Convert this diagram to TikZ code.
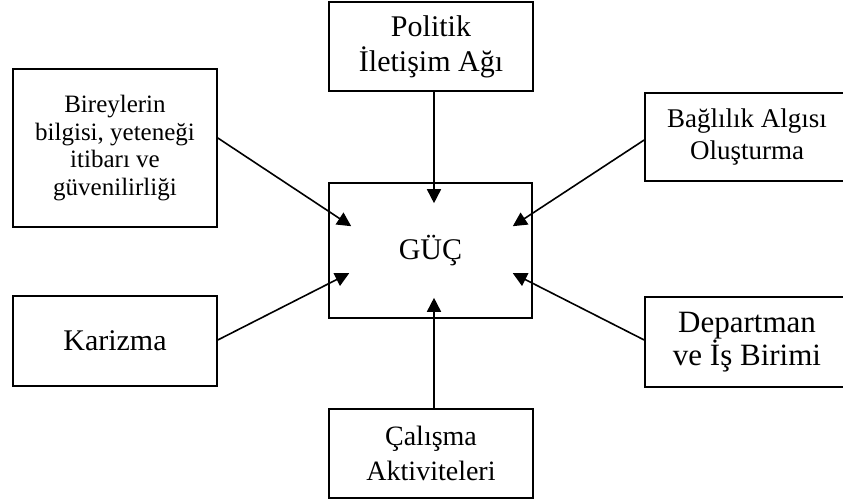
\documentclass[tikz,border=0pt]{standalone}
\usepackage{fontspec}
\setmainfont{Liberation Serif}
\usetikzlibrary{arrows.meta,calc}

\tikzset{
  box/.style={draw=black, line width=1.6pt, fill=white, align=center,
    inner sep=0pt, font=\fontsize{30}{35}\selectfont},
  arr/.style={line width=1.6pt, -{Triangle[length=14pt,width=14pt]}}
}

\begin{document}
\begin{tikzpicture}[x=1pt,y=-1pt]
  \clip (0,0) rectangle (843,502);
  \fill[white] (0,0) rectangle (843,502);

  % central box
  \node[box, minimum width=203pt, minimum height=135pt] (guc) at (430.5,250.5) {GÜÇ};

  % surrounding boxes
  \node[box, minimum width=204pt, minimum height=89pt] (pol) at (431,46.5) {Politik\\İletişim Ağı};
  \node[box, font=\fontsize{28}{35}\selectfont, minimum width=204pt, minimum height=89pt] (cal) at (431,453.5) {Çalışma\\Aktiviteleri};
  \node[box, font=\fontsize{25}{27.5}\selectfont, minimum width=204pt, minimum height=158pt] (bir) at (115,148)
    {Bireylerin\\bilgisi, yeteneği\\itibarı ve\\güvenilirliği};
  \node[box, minimum width=204pt, minimum height=90pt] (kar) at (115,341) {Karizma};
  \node[box, font=\fontsize{27}{32}\selectfont, minimum width=204pt, minimum height=88pt] (bag) at (747,137) {Bağlılık Algısı\\Oluşturma};
  \node[box, font=\fontsize{31}{33}\selectfont, minimum width=204pt, minimum height=90pt] (dep) at (747,342) {Departman\\ve İş Birimi};

  % arrow tips inside the central box
  \coordinate (tpol) at ($(guc.north)+(3.5,21)$);
  \coordinate (tcal) at ($(guc.south)+(3.5,-21)$);
  \coordinate (tbir) at ($(guc.north west)+(23,44)$);
  \coordinate (tkar) at ($(guc.north west)+(21,91)$);
  \coordinate (tbag) at ($(guc.north east)+(-20,44)$);
  \coordinate (tdep) at ($(guc.north east)+(-20,91)$);

  % connectors
  \draw[arr] (pol.south -| tpol) -- (tpol);
  \draw[arr] (cal.north -| tcal) -- (tcal);
  \draw[arr] ($(bir.east)+(0,-10)$) -- (tbir);
  \draw[arr] ($(kar.east)+(0,-1)$) -- (tkar);
  \draw[arr] ($(bag.west)+(0,3)$) -- (tbag);
  \draw[arr] ($(dep.west)+(0,-2)$) -- (tdep);
\end{tikzpicture}
\end{document}
